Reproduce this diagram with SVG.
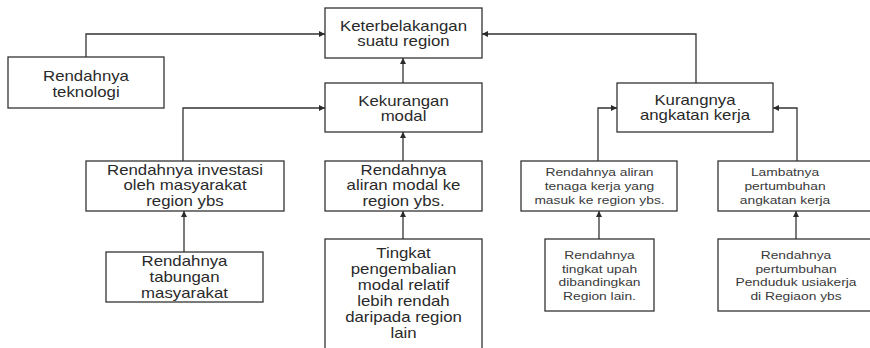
<svg xmlns="http://www.w3.org/2000/svg" width="870" height="348" viewBox="0 0 870 348">
  <defs>
    <marker id="arrow" markerUnits="userSpaceOnUse" markerWidth="7" markerHeight="6" refX="6" refY="3" orient="auto">
      <path d="M0,0 L6,3 L0,6 z" fill="#2b2b2b"/>
    </marker>
    <style>
      .box { fill: #ffffff; stroke: #333333; stroke-width: 1.3; }
      .link { fill: none; stroke: #333333; stroke-width: 1.3; marker-end: url(#arrow); }
      .lbl text { font-family: "Liberation Sans", Arial, sans-serif; font-size: 14px; fill: #2a2a2a; text-anchor: middle; }
      .lbl.sm text { font-size: 11.5px; fill: #3a3a3a; }
    </style>
  </defs>

  <rect width="870" height="348" fill="#ffffff"/>

  <!-- connectors -->
  <g id="connectors">
    <path class="link" d="M86,57 V34 H325"/>
    <path class="link" d="M696,83 V34 H482"/>
    <path class="link" d="M403,83 V58"/>
    <path class="link" d="M183,161 V108 H325"/>
    <path class="link" d="M403,161 V132"/>
    <path class="link" d="M598,161 V108 H617"/>
    <path class="link" d="M797,161 V108 H773"/>
    <path class="link" d="M184,252 V211"/>
    <path class="link" d="M403,239 V211"/>
    <path class="link" d="M599,239 V211"/>
    <path class="link" d="M796,239 V211"/>
  </g>

  <g id="keterbelakangan">
    <rect class="box" x="325" y="8" width="157" height="50"/>
    <g class="lbl" transform="translate(403.5,0) scale(1.2,1)">
      <text x="0" y="31">Keterbelakangan</text>
      <text x="0" y="46">suatu region</text>
    </g>
  </g>

  <g id="teknologi">
    <rect class="box" x="8" y="57" width="156" height="51"/>
    <g class="lbl" transform="translate(86,0) scale(1.2,1)">
      <text x="0" y="81">Rendahnya</text>
      <text x="0" y="97">teknologi</text>
    </g>
  </g>

  <g id="kekurangan-modal">
    <rect class="box" x="325" y="83" width="157" height="49"/>
    <g class="lbl" transform="translate(403.5,0) scale(1.2,1)">
      <text x="0" y="106">Kekurangan</text>
      <text x="0" y="121">modal</text>
    </g>
  </g>

  <g id="kurangnya-angkatan">
    <rect class="box" x="617" y="83" width="156" height="49"/>
    <g class="lbl" transform="translate(695,0) scale(1.2,1)">
      <text x="0" y="105">Kurangnya</text>
      <text x="0" y="120">angkatan kerja</text>
    </g>
  </g>

  <g id="investasi">
    <rect class="box" x="86" y="161" width="198" height="50"/>
    <g class="lbl" transform="translate(185,0) scale(1.2,1)">
      <text x="0" y="175">Rendahnya investasi</text>
      <text x="0" y="190.5">oleh masyarakat</text>
      <text x="0" y="206">region ybs</text>
    </g>
  </g>

  <g id="aliran-modal">
    <rect class="box" x="325" y="161" width="157" height="50"/>
    <g class="lbl" transform="translate(403.5,0) scale(1.2,1)">
      <text x="0" y="175">Rendahnya</text>
      <text x="0" y="190.5">aliran modal ke</text>
      <text x="0" y="206">region ybs.</text>
    </g>
  </g>

  <g id="aliran-tenaga">
    <rect class="box" x="521" y="161" width="156" height="50"/>
    <g class="lbl sm" transform="translate(599.5,0) scale(1.2,1)">
      <text x="0" y="176">Rendahnya aliran</text>
      <text x="0" y="190">tenaga kerja yang</text>
      <text x="0" y="204">masuk ke region ybs.</text>
    </g>
  </g>

  <g id="lambatnya">
    <rect class="box" x="718" y="161" width="170" height="50"/>
    <g class="lbl sm" transform="translate(785,0) scale(1.2,1)">
      <text x="0" y="176">Lambatnya</text>
      <text x="0" y="190">pertumbuhan</text>
      <text x="0" y="204">angkatan kerja</text>
    </g>
  </g>

  <g id="tabungan">
    <rect class="box" x="106" y="252" width="157" height="50"/>
    <g class="lbl" transform="translate(184.5,0) scale(1.2,1)">
      <text x="0" y="266">Rendahnya</text>
      <text x="0" y="282">tabungan</text>
      <text x="0" y="298">masyarakat</text>
    </g>
  </g>

  <g id="tingkat-pengembalian">
    <rect class="box" x="325" y="239" width="157" height="130"/>
    <g class="lbl" transform="translate(403.5,0) scale(1.2,1)">
      <text x="0" y="258">Tingkat</text>
      <text x="0" y="274">pengembalian</text>
      <text x="0" y="290">modal relatif</text>
      <text x="0" y="306">lebih rendah</text>
      <text x="0" y="322">daripada region</text>
      <text x="0" y="338">lain</text>
    </g>
  </g>

  <g id="tingkat-upah">
    <rect class="box" x="545" y="239" width="109" height="72"/>
    <g class="lbl sm" transform="translate(599.5,0) scale(1.2,1)">
      <text x="0" y="259">Rendahnya</text>
      <text x="0" y="273">tingkat upah</text>
      <text x="0" y="286.5">dibandingkan</text>
      <text x="0" y="300">Region lain.</text>
    </g>
  </g>

  <g id="pertumbuhan-penduduk">
    <rect class="box" x="718" y="239" width="170" height="72"/>
    <g class="lbl sm" transform="translate(796,0) scale(1.2,1)">
      <text x="0" y="259">Rendahnya</text>
      <text x="0" y="273">pertumbuhan</text>
      <text x="0" y="286.5">Penduduk usiakerja</text>
      <text x="0" y="300">di Regiaon ybs</text>
    </g>
  </g>
</svg>
